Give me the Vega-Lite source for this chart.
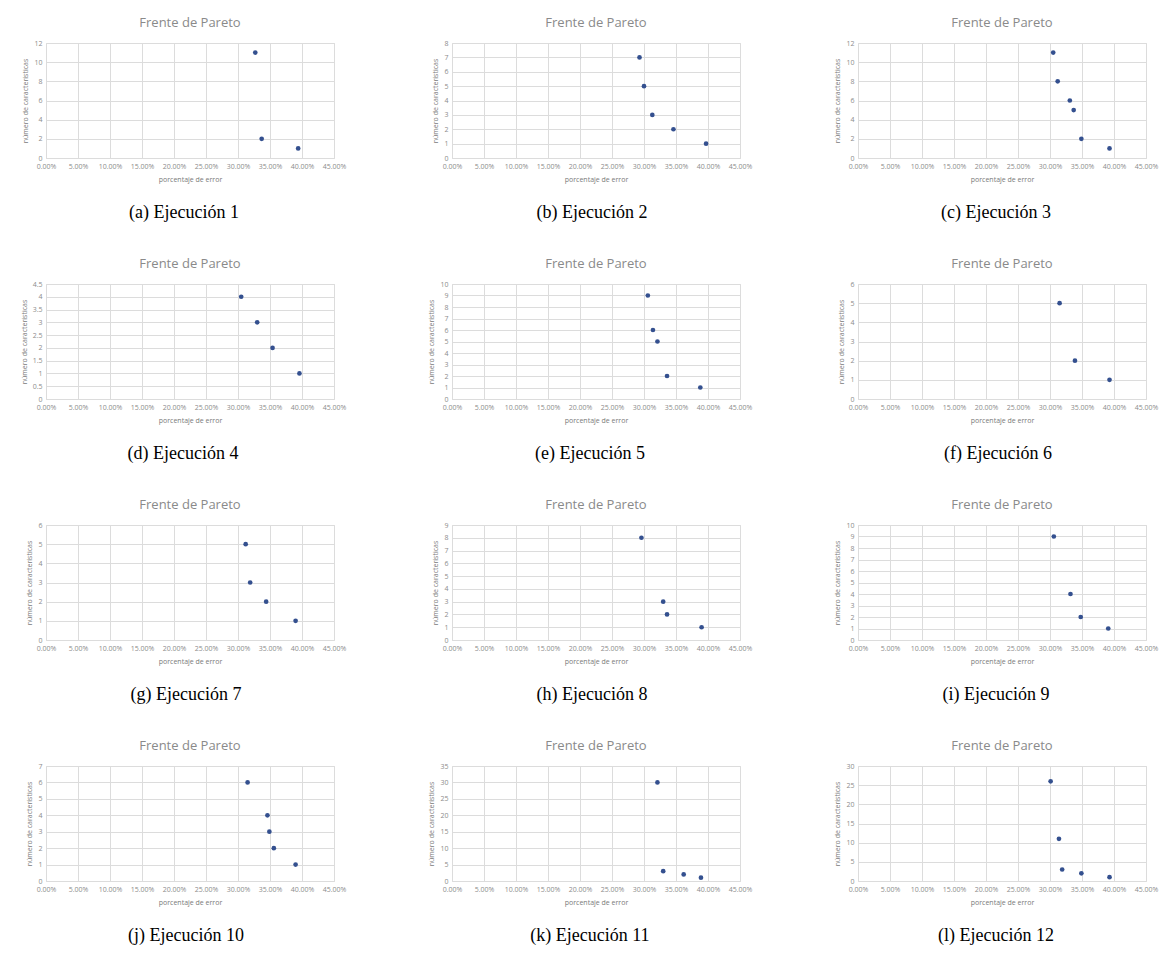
{
  "$schema": "https://vega.github.io/schema/vega-lite/v6.json",
  "background": "white",
  "padding": {"left": 19, "top": 16, "right": 0, "bottom": 5},
  "columns": 3,
  "spacing": {"row": 35, "column": 80},
  "datasets": {
    "pts": [
      {"p": "a", "err": 0.327, "n": 11}, {"p": "a", "err": 0.337, "n": 2}, {"p": "a", "err": 0.394, "n": 1},
      {"p": "b", "err": 0.293, "n": 7}, {"p": "b", "err": 0.300, "n": 5}, {"p": "b", "err": 0.313, "n": 3}, {"p": "b", "err": 0.346, "n": 2}, {"p": "b", "err": 0.397, "n": 1},
      {"p": "c", "err": 0.305, "n": 11}, {"p": "c", "err": 0.312, "n": 8}, {"p": "c", "err": 0.331, "n": 6}, {"p": "c", "err": 0.337, "n": 5}, {"p": "c", "err": 0.349, "n": 2}, {"p": "c", "err": 0.393, "n": 1},
      {"p": "d", "err": 0.305, "n": 4}, {"p": "d", "err": 0.330, "n": 3}, {"p": "d", "err": 0.354, "n": 2}, {"p": "d", "err": 0.396, "n": 1},
      {"p": "e", "err": 0.306, "n": 9}, {"p": "e", "err": 0.314, "n": 6}, {"p": "e", "err": 0.321, "n": 5}, {"p": "e", "err": 0.336, "n": 2}, {"p": "e", "err": 0.388, "n": 1},
      {"p": "f", "err": 0.315, "n": 5}, {"p": "f", "err": 0.339, "n": 2}, {"p": "f", "err": 0.393, "n": 1},
      {"p": "g", "err": 0.312, "n": 5}, {"p": "g", "err": 0.319, "n": 3}, {"p": "g", "err": 0.344, "n": 2}, {"p": "g", "err": 0.390, "n": 1},
      {"p": "h", "err": 0.296, "n": 8}, {"p": "h", "err": 0.330, "n": 3}, {"p": "h", "err": 0.336, "n": 2}, {"p": "h", "err": 0.390, "n": 1},
      {"p": "i", "err": 0.306, "n": 9}, {"p": "i", "err": 0.332, "n": 4}, {"p": "i", "err": 0.348, "n": 2}, {"p": "i", "err": 0.391, "n": 1},
      {"p": "j", "err": 0.315, "n": 6}, {"p": "j", "err": 0.346, "n": 4}, {"p": "j", "err": 0.349, "n": 3}, {"p": "j", "err": 0.356, "n": 2}, {"p": "j", "err": 0.390, "n": 1},
      {"p": "k", "err": 0.321, "n": 30}, {"p": "k", "err": 0.330, "n": 3}, {"p": "k", "err": 0.362, "n": 2}, {"p": "k", "err": 0.389, "n": 1},
      {"p": "l", "err": 0.301, "n": 26}, {"p": "l", "err": 0.314, "n": 11}, {"p": "l", "err": 0.319, "n": 3}, {"p": "l", "err": 0.349, "n": 2}, {"p": "l", "err": 0.393, "n": 1}
    ]
  },
  "data": {"name": "pts"},
  "config": {
    "view": {"stroke": "#d9d9d9"},
    "title": {"font": "Open Sans", "fontSize": 13, "fontWeight": "normal", "color": "#8a8a8a", "offset": 9},
    "axis": {
      "labelFont": "Open Sans", "labelFontSize": 7, "labelColor": "#8c8c8c", "labelOverlap": false, "labelFlush": false,
      "titleFont": "Open Sans", "titleFontSize": 7, "titleFontWeight": "normal", "titleColor": "#7a7a7a",
      "gridColor": "#dcdcdc", "domain": false, "ticks": false, "labelPadding": 4
    },
    "axisX": {"titlePadding": 6},
    "axisY": {"titlePadding": 5, "format": ".1~f"},
    "point": {"filled": true, "color": "#34508f", "size": 22, "opacity": 1}
  },
  "concat": [
    {"title": {"text": "(a) Ejecución 1", "orient": "bottom", "anchor": "middle", "font": "Liberation Serif", "fontSize": 18, "color": "#000000", "offset": 21},
     "vconcat": [{"title": "Frente de Pareto", "width": 288, "height": 115, "transform": [{"filter": "datum.p === 'a'"}], "mark": "point",
       "encoding": {"x": {"field": "err", "type": "quantitative", "title": "porcentaje de error", "scale": {"domain": [0, 0.45]}, "axis": {"values": [0, 0.05, 0.1, 0.15, 0.2, 0.25, 0.3, 0.35, 0.4, 0.45], "format": ".2%"}},
         "y": {"field": "n", "type": "quantitative", "title": "número de características", "scale": {"domain": [0, 12]}, "axis": {"values": [0, 2, 4, 6, 8, 10, 12]}}}}]},
    {"title": {"text": "(b) Ejecución 2", "orient": "bottom", "anchor": "middle", "font": "Liberation Serif", "fontSize": 18, "color": "#000000", "offset": 21},
     "vconcat": [{"title": "Frente de Pareto", "width": 288, "height": 115, "transform": [{"filter": "datum.p === 'b'"}], "mark": "point",
       "encoding": {"x": {"field": "err", "type": "quantitative", "title": "porcentaje de error", "scale": {"domain": [0, 0.45]}, "axis": {"values": [0, 0.05, 0.1, 0.15, 0.2, 0.25, 0.3, 0.35, 0.4, 0.45], "format": ".2%"}},
         "y": {"field": "n", "type": "quantitative", "title": "número de características", "scale": {"domain": [0, 8]}, "axis": {"values": [0, 1, 2, 3, 4, 5, 6, 7, 8]}}}}]},
    {"title": {"text": "(c) Ejecución 3", "orient": "bottom", "anchor": "middle", "font": "Liberation Serif", "fontSize": 18, "color": "#000000", "offset": 21},
     "vconcat": [{"title": "Frente de Pareto", "width": 288, "height": 115, "transform": [{"filter": "datum.p === 'c'"}], "mark": "point",
       "encoding": {"x": {"field": "err", "type": "quantitative", "title": "porcentaje de error", "scale": {"domain": [0, 0.45]}, "axis": {"values": [0, 0.05, 0.1, 0.15, 0.2, 0.25, 0.3, 0.35, 0.4, 0.45], "format": ".2%"}},
         "y": {"field": "n", "type": "quantitative", "title": "número de características", "scale": {"domain": [0, 12]}, "axis": {"values": [0, 2, 4, 6, 8, 10, 12]}}}}]},
    {"title": {"text": "(d) Ejecución 4", "orient": "bottom", "anchor": "middle", "font": "Liberation Serif", "fontSize": 18, "color": "#000000", "offset": 21},
     "vconcat": [{"title": "Frente de Pareto", "width": 288, "height": 115, "transform": [{"filter": "datum.p === 'd'"}], "mark": "point",
       "encoding": {"x": {"field": "err", "type": "quantitative", "title": "porcentaje de error", "scale": {"domain": [0, 0.45]}, "axis": {"values": [0, 0.05, 0.1, 0.15, 0.2, 0.25, 0.3, 0.35, 0.4, 0.45], "format": ".2%"}},
         "y": {"field": "n", "type": "quantitative", "title": "número de características", "scale": {"domain": [0, 4.5]}, "axis": {"values": [0, 0.5, 1, 1.5, 2, 2.5, 3, 3.5, 4, 4.5]}}}}]},
    {"title": {"text": "(e) Ejecución 5", "orient": "bottom", "anchor": "middle", "font": "Liberation Serif", "fontSize": 18, "color": "#000000", "offset": 21},
     "vconcat": [{"title": "Frente de Pareto", "width": 288, "height": 115, "transform": [{"filter": "datum.p === 'e'"}], "mark": "point",
       "encoding": {"x": {"field": "err", "type": "quantitative", "title": "porcentaje de error", "scale": {"domain": [0, 0.45]}, "axis": {"values": [0, 0.05, 0.1, 0.15, 0.2, 0.25, 0.3, 0.35, 0.4, 0.45], "format": ".2%"}},
         "y": {"field": "n", "type": "quantitative", "title": "número de características", "scale": {"domain": [0, 10]}, "axis": {"values": [0, 1, 2, 3, 4, 5, 6, 7, 8, 9, 10]}}}}]},
    {"title": {"text": "(f) Ejecución 6", "orient": "bottom", "anchor": "middle", "font": "Liberation Serif", "fontSize": 18, "color": "#000000", "offset": 21},
     "vconcat": [{"title": "Frente de Pareto", "width": 288, "height": 115, "transform": [{"filter": "datum.p === 'f'"}], "mark": "point",
       "encoding": {"x": {"field": "err", "type": "quantitative", "title": "porcentaje de error", "scale": {"domain": [0, 0.45]}, "axis": {"values": [0, 0.05, 0.1, 0.15, 0.2, 0.25, 0.3, 0.35, 0.4, 0.45], "format": ".2%"}},
         "y": {"field": "n", "type": "quantitative", "title": "número de características", "scale": {"domain": [0, 6]}, "axis": {"values": [0, 1, 2, 3, 4, 5, 6]}}}}]},
    {"title": {"text": "(g) Ejecución 7", "orient": "bottom", "anchor": "middle", "font": "Liberation Serif", "fontSize": 18, "color": "#000000", "offset": 21},
     "vconcat": [{"title": "Frente de Pareto", "width": 288, "height": 115, "transform": [{"filter": "datum.p === 'g'"}], "mark": "point",
       "encoding": {"x": {"field": "err", "type": "quantitative", "title": "porcentaje de error", "scale": {"domain": [0, 0.45]}, "axis": {"values": [0, 0.05, 0.1, 0.15, 0.2, 0.25, 0.3, 0.35, 0.4, 0.45], "format": ".2%"}},
         "y": {"field": "n", "type": "quantitative", "title": "número de características", "scale": {"domain": [0, 6]}, "axis": {"values": [0, 1, 2, 3, 4, 5, 6]}}}}]},
    {"title": {"text": "(h) Ejecución 8", "orient": "bottom", "anchor": "middle", "font": "Liberation Serif", "fontSize": 18, "color": "#000000", "offset": 21},
     "vconcat": [{"title": "Frente de Pareto", "width": 288, "height": 115, "transform": [{"filter": "datum.p === 'h'"}], "mark": "point",
       "encoding": {"x": {"field": "err", "type": "quantitative", "title": "porcentaje de error", "scale": {"domain": [0, 0.45]}, "axis": {"values": [0, 0.05, 0.1, 0.15, 0.2, 0.25, 0.3, 0.35, 0.4, 0.45], "format": ".2%"}},
         "y": {"field": "n", "type": "quantitative", "title": "número de características", "scale": {"domain": [0, 9]}, "axis": {"values": [0, 1, 2, 3, 4, 5, 6, 7, 8, 9]}}}}]},
    {"title": {"text": "(i) Ejecución 9", "orient": "bottom", "anchor": "middle", "font": "Liberation Serif", "fontSize": 18, "color": "#000000", "offset": 21},
     "vconcat": [{"title": "Frente de Pareto", "width": 288, "height": 115, "transform": [{"filter": "datum.p === 'i'"}], "mark": "point",
       "encoding": {"x": {"field": "err", "type": "quantitative", "title": "porcentaje de error", "scale": {"domain": [0, 0.45]}, "axis": {"values": [0, 0.05, 0.1, 0.15, 0.2, 0.25, 0.3, 0.35, 0.4, 0.45], "format": ".2%"}},
         "y": {"field": "n", "type": "quantitative", "title": "número de características", "scale": {"domain": [0, 10]}, "axis": {"values": [0, 1, 2, 3, 4, 5, 6, 7, 8, 9, 10]}}}}]},
    {"title": {"text": "(j) Ejecución 10", "orient": "bottom", "anchor": "middle", "font": "Liberation Serif", "fontSize": 18, "color": "#000000", "offset": 21},
     "vconcat": [{"title": "Frente de Pareto", "width": 288, "height": 115, "transform": [{"filter": "datum.p === 'j'"}], "mark": "point",
       "encoding": {"x": {"field": "err", "type": "quantitative", "title": "porcentaje de error", "scale": {"domain": [0, 0.45]}, "axis": {"values": [0, 0.05, 0.1, 0.15, 0.2, 0.25, 0.3, 0.35, 0.4, 0.45], "format": ".2%"}},
         "y": {"field": "n", "type": "quantitative", "title": "número de características", "scale": {"domain": [0, 7]}, "axis": {"values": [0, 1, 2, 3, 4, 5, 6, 7]}}}}]},
    {"title": {"text": "(k) Ejecución 11", "orient": "bottom", "anchor": "middle", "font": "Liberation Serif", "fontSize": 18, "color": "#000000", "offset": 21},
     "vconcat": [{"title": "Frente de Pareto", "width": 288, "height": 115, "transform": [{"filter": "datum.p === 'k'"}], "mark": "point",
       "encoding": {"x": {"field": "err", "type": "quantitative", "title": "porcentaje de error", "scale": {"domain": [0, 0.45]}, "axis": {"values": [0, 0.05, 0.1, 0.15, 0.2, 0.25, 0.3, 0.35, 0.4, 0.45], "format": ".2%"}},
         "y": {"field": "n", "type": "quantitative", "title": "número de características", "scale": {"domain": [0, 35]}, "axis": {"values": [0, 5, 10, 15, 20, 25, 30, 35]}}}}]},
    {"title": {"text": "(l) Ejecución 12", "orient": "bottom", "anchor": "middle", "font": "Liberation Serif", "fontSize": 18, "color": "#000000", "offset": 21},
     "vconcat": [{"title": "Frente de Pareto", "width": 288, "height": 115, "transform": [{"filter": "datum.p === 'l'"}], "mark": "point",
       "encoding": {"x": {"field": "err", "type": "quantitative", "title": "porcentaje de error", "scale": {"domain": [0, 0.45]}, "axis": {"values": [0, 0.05, 0.1, 0.15, 0.2, 0.25, 0.3, 0.35, 0.4, 0.45], "format": ".2%"}},
         "y": {"field": "n", "type": "quantitative", "title": "número de características", "scale": {"domain": [0, 30]}, "axis": {"values": [0, 5, 10, 15, 20, 25, 30]}}}}]}
  ]
}
